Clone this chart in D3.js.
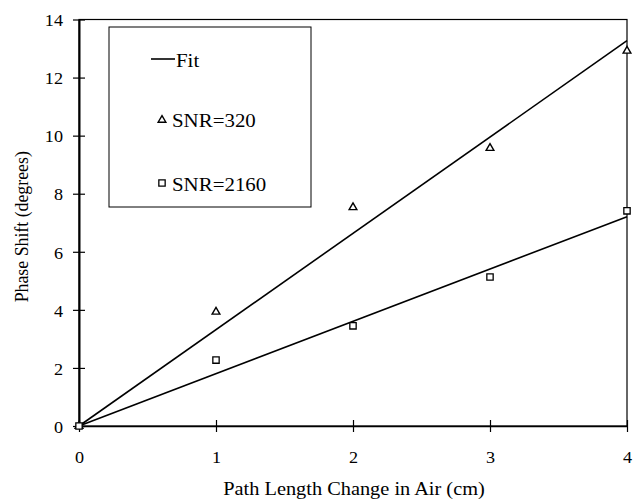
<!DOCTYPE html>
<html>
<head>
<meta charset="utf-8">
<script src="https://cdn.jsdelivr.net/npm/d3@7"></script>
<style>
  body { margin: 0; background: #fff; }
</style>
</head>
<body>
<div id="container"></div>
<script>
// data
const pathLength = [0, 1, 2, 3, 4];
const snr320 = [0, 3.93, 7.53, 9.57, 12.92];
const snr2160 = [0, 2.27, 3.45, 5.13, 7.41];
// fit lines through the origin: [x, y] ends
const fit320 = [[0, 0], [4, 13.27]];
const fit2160 = [[0, 0], [4, 7.21]];
const xTicks = [0, 1, 2, 3, 4];
const yTicks = [0, 2, 4, 6, 8, 10, 12, 14];

const w = 635;
const h = 504;
const plotL = 79, plotR = 627, plotT = 19.5, plotB = 426;
const serif = '"Liberation Serif", "Times New Roman", serif';
const stretch = 1.1; // the scanned text is a bit wider than plain Times

const svg = d3.select("#container")
  .append("svg")
  .attr("width", w)
  .attr("height", h);

const xScale = d3.scaleLinear().domain([0, 4]).range([plotL, plotR]);
const yScale = d3.scaleLinear().domain([0, 14]).range([plotB, plotT]);

// frame
svg.append("rect")
  .attr("x", plotL).attr("y", plotT)
  .attr("width", plotR - plotL).attr("height", plotB - plotT)
  .attr("fill", "none").attr("stroke", "#000").attr("stroke-width", 1.2);

// axes with ticks crossing the axis line
const yAxis = d3.axisLeft(yScale).tickValues(yTicks).tickFormat(d3.format("d")).tickSizeOuter(0);
svg.append("g")
  .attr("transform", "translate(" + plotL + ",0)")
  .call(yAxis)
  .call(g => g.select(".domain").attr("stroke-width", 2))
  .call(g => g.selectAll(".tick line").attr("x1", -6).attr("x2", 6).attr("stroke-width", 1.2))
  .call(g => g.selectAll(".tick text")
    .attr("x", 0).attr("dy", "0.38em")
    .attr("transform", "translate(-16,0) scale(" + stretch + ",1)")
    .style("font-family", serif).style("font-size", "16.5px").attr("fill", "#000"));

const xAxis = d3.axisBottom(xScale).tickValues(xTicks).tickFormat(d3.format("d")).tickSizeOuter(0);
svg.append("g")
  .attr("transform", "translate(0," + plotB + ")")
  .call(xAxis)
  .call(g => g.select(".domain").attr("stroke-width", 1.5))
  .call(g => g.selectAll(".tick line").attr("y1", -6).attr("y2", 6).attr("stroke-width", 1.2))
  .call(g => g.selectAll(".tick text")
    .attr("y", 0).attr("dy", 0)
    .attr("transform", "translate(0,36.5) scale(" + stretch + ",1)")
    .style("font-family", serif).style("font-size", "16.5px").attr("fill", "#000"));

// axis titles
svg.append("text")
  .attr("transform", "translate(" + ((plotL + plotR) / 2 + 1) + ",494.5) scale(" + stretch + ",1)")
  .attr("text-anchor", "middle")
  .style("font-family", serif).style("font-size", "18.5px")
  .text("Path Length Change in Air (cm)");

svg.append("text")
  .attr("transform", "translate(28," + ((plotT + plotB) / 2 + 4) + ") rotate(-90)")
  .attr("text-anchor", "middle")
  .style("font-family", serif).style("font-size", "17.8px")
  .text("Phase Shift (degrees)");

// fit lines
const line = d3.line().x(d => xScale(d[0])).y(d => yScale(d[1]));
[fit320, fit2160].forEach(f => {
  svg.append("path")
    .attr("d", line(f))
    .attr("fill", "none")
    .attr("stroke", "#000")
    .attr("stroke-width", 1.6);
});

const triangle = d3.symbol().type(d3.symbolTriangle).size(26);
const square = d3.symbol().type(d3.symbolSquare).size(40);

svg.selectAll(".tri")
  .data(pathLength.map((x, i) => [x, snr320[i]]))
  .enter()
  .append("path")
  .attr("class", "tri")
  .attr("d", triangle)
  .attr("transform", d => "translate(" + xScale(d[0]) + "," + yScale(d[1]) + ")")
  .attr("fill", "#fff")
  .attr("stroke", "#000")
  .attr("stroke-width", 1.4);

svg.selectAll(".sq")
  .data(pathLength.map((x, i) => [x, snr2160[i]]))
  .enter()
  .append("path")
  .attr("class", "sq")
  .attr("d", square)
  .attr("transform", d => "translate(" + xScale(d[0]) + "," + yScale(d[1]) + ")")
  .attr("fill", "#fff")
  .attr("stroke", "#000")
  .attr("stroke-width", 1.3);

// legend
const lg = svg.append("g");
lg.append("rect")
  .attr("x", 109).attr("y", 27)
  .attr("width", 202).attr("height", 180)
  .attr("fill", "#fff").attr("stroke", "#000").attr("stroke-width", 1);
lg.append("line")
  .attr("x1", 151).attr("x2", 175).attr("y1", 59).attr("y2", 59)
  .attr("stroke", "#000").attr("stroke-width", 1.6);
const legendText = (x, y, s) => lg.append("text")
  .attr("transform", "translate(" + x + "," + y + ") scale(" + stretch + ",1)")
  .style("font-family", serif).style("font-size", "19px")
  .text(s);
legendText(176, 66.5, "Fit");
lg.append("path").attr("d", triangle)
  .attr("transform", "translate(162,120)")
  .attr("fill", "#fff").attr("stroke", "#000").attr("stroke-width", 1.4);
legendText(172, 126.7, "SNR=320");
lg.append("path").attr("d", square)
  .attr("transform", "translate(162,183)")
  .attr("fill", "#fff").attr("stroke", "#000").attr("stroke-width", 1.3);
legendText(172, 190.5, "SNR=2160");
</script>
</body>
</html>
